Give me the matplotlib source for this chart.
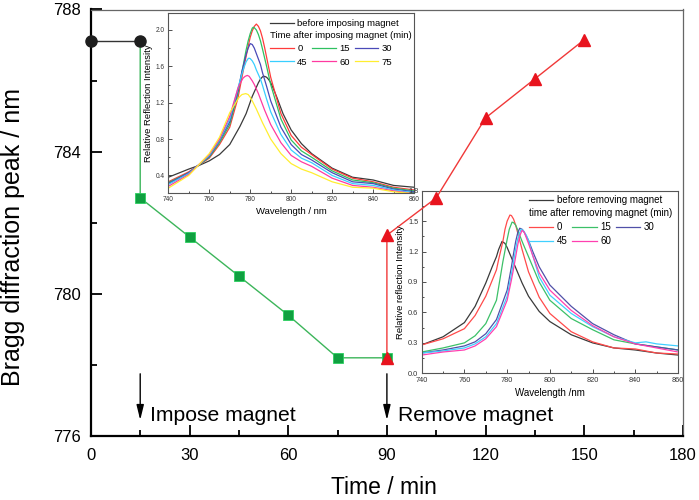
import matplotlib
matplotlib.use('Agg')
import matplotlib.pyplot as plt
from matplotlib.ticker import MultipleLocator, FormatStrFormatter

plt.rcParams['font.family'] = ['Liberation Sans', 'DejaVu Sans']

# ---------------- main chart data ----------------
t_before = [0, 15]
peak_before = [787.1, 787.1]
t_impose = [15, 15, 30, 45, 60, 75, 90]
peak_impose = [787.1, 782.7, 781.6, 780.5, 779.4, 778.2, 778.2]
t_remove = [90, 90, 105, 120, 135, 150]
peak_remove = [778.2, 781.65, 782.7, 784.95, 786.05, 787.15]
x_ticks = [0, 30, 60, 90, 120, 150, 180]
y_ticks = [776, 780, 784, 788]

# ---------------- inset 1: imposing magnet ----------------
imp_labels = ['0', '15', '30', '45', '60', '75']
imp_colors = ['#ff3b3b', '#2fc060', '#4a4ab8', '#38cfff', '#ff3aa0', '#ffee30']
imp_before_wl = [740, 750, 755, 760, 765, 770, 775, 778, 781, 784, 785, 786, 787, 788, 789, 790, 791, 793, 796, 800, 805, 810, 820, 830, 840, 850, 860]
imp_before_I = [0.38, 0.47, 0.51, 0.56, 0.63, 0.74, 0.94, 1.08, 1.27, 1.42, 1.46, 1.485, 1.49, 1.48, 1.455, 1.42, 1.37, 1.26, 1.08, 0.90, 0.75, 0.64, 0.48, 0.38, 0.35, 0.29, 0.27]
imp_wl = [
    [740, 750, 760, 765, 770, 774, 777, 779, 780, 781, 782, 783, 784, 785, 786, 787, 788, 790, 795, 800, 805, 810, 820, 830, 840, 850, 860],
    [740, 750, 760, 765, 770, 774, 777, 778, 779, 780, 781, 781.5, 782, 783, 784, 785, 786, 788, 790, 795, 800, 805, 810, 820, 830, 840, 850, 860],
    [740, 750, 760, 765, 770, 774, 776, 777, 778, 779, 780, 781, 782, 783, 785, 786, 788, 790, 795, 800, 805, 810, 820, 830, 840, 850, 860],
    [740, 750, 760, 765, 770, 774, 776, 777, 778, 779, 779.4, 780, 781, 782, 783, 785, 786, 788, 790, 795, 800, 805, 810, 820, 830, 840, 850, 860],
    [740, 750, 760, 765, 770, 774, 775, 776.5, 777.5, 778.6, 779.5, 781, 782, 784, 787, 790, 795, 800, 805, 810, 820, 830, 840, 850, 860],
    [740, 750, 760, 765, 770, 774, 775, 776, 777.8, 779, 780, 781, 783, 786, 790, 795, 800, 805, 810, 820, 830, 840, 850, 860],
]
imp_I = [
    [0.33, 0.44, 0.59, 0.74, 0.93, 1.25, 1.60, 1.82, 1.92, 1.99, 2.04, 2.065, 2.04, 1.99, 1.91, 1.81, 1.70, 1.48, 1.08, 0.84, 0.71, 0.63, 0.47, 0.37, 0.33, 0.27, 0.24],
    [0.32, 0.43, 0.60, 0.76, 0.96, 1.30, 1.66, 1.78, 1.88, 1.96, 2.02, 2.03, 2.025, 2.00, 1.95, 1.88, 1.79, 1.60, 1.40, 1.02, 0.79, 0.67, 0.60, 0.45, 0.35, 0.32, 0.26, 0.23],
    [0.31, 0.43, 0.61, 0.78, 0.99, 1.33, 1.55, 1.64, 1.73, 1.80, 1.85, 1.84, 1.80, 1.74, 1.62, 1.53, 1.38, 1.22, 0.93, 0.74, 0.63, 0.57, 0.43, 0.33, 0.31, 0.25, 0.22],
    [0.30, 0.42, 0.62, 0.79, 1.02, 1.36, 1.52, 1.59, 1.65, 1.685, 1.69, 1.685, 1.66, 1.62, 1.56, 1.46, 1.39, 1.24, 1.10, 0.85, 0.68, 0.59, 0.54, 0.40, 0.31, 0.29, 0.24, 0.21],
    [0.28, 0.41, 0.63, 0.80, 1.05, 1.36, 1.41, 1.47, 1.49, 1.50, 1.49, 1.44, 1.40, 1.30, 1.12, 0.96, 0.76, 0.62, 0.55, 0.50, 0.37, 0.29, 0.27, 0.23, 0.20],
    [0.26, 0.40, 0.64, 0.82, 1.09, 1.24, 1.27, 1.29, 1.30, 1.29, 1.26, 1.22, 1.13, 0.98, 0.80, 0.64, 0.53, 0.47, 0.43, 0.33, 0.27, 0.26, 0.22, 0.20],
]

# ---------------- inset 2: removing magnet ----------------
rem_labels = ['0', '15', '30', '45', '60']
rem_colors = ['#ff4a4a', '#3cc068', '#5050a8', '#40d0ff', '#ff40b0']
rem_before_wl = [740, 750, 760, 765, 770, 773, 775, 776, 777.6, 779, 780, 782, 785, 787, 790, 795, 800, 810, 820, 830, 840, 850, 860]
rem_before_I = [0.28, 0.36, 0.50, 0.66, 0.89, 1.05, 1.15, 1.22, 1.30, 1.28, 1.24, 1.14, 0.99, 0.89, 0.76, 0.61, 0.51, 0.38, 0.30, 0.25, 0.23, 0.20, 0.18]
rem_wl = [
    [740, 750, 760, 765, 770, 775, 776, 777, 778, 779, 780, 781.3, 782, 783, 784, 785, 787, 790, 795, 800, 810, 820, 830, 840, 850, 860],
    [740, 750, 760, 765, 770, 775, 778, 779, 780, 781, 782.3, 783, 784, 785, 787, 790, 795, 800, 810, 820, 830, 840, 850, 860],
    [740, 750, 760, 765, 770, 775, 780, 782, 783, 784, 785, 785.9, 787, 788, 790, 792, 795, 800, 810, 820, 830, 840, 850, 860],
    [740, 750, 760, 765, 770, 775, 780, 782, 783, 784, 785, 786.5, 787.5, 789, 790, 792, 795, 800, 810, 820, 830, 840, 845, 850, 860],
    [740, 750, 760, 765, 770, 775, 780, 782, 783, 784, 785, 786, 787, 788, 790, 792, 795, 800, 810, 820, 830, 840, 850, 860],
]
rem_I = [
    [0.28, 0.34, 0.44, 0.57, 0.76, 1.02, 1.12, 1.21, 1.30, 1.42, 1.50, 1.56, 1.555, 1.52, 1.46, 1.38, 1.22, 1.00, 0.75, 0.59, 0.41, 0.31, 0.25, 0.24, 0.20, 0.19],
    [0.21, 0.25, 0.30, 0.37, 0.49, 0.72, 1.10, 1.21, 1.32, 1.42, 1.49, 1.485, 1.46, 1.41, 1.30, 1.15, 0.90, 0.72, 0.54, 0.43, 0.33, 0.29, 0.26, 0.23],
    [0.20, 0.23, 0.27, 0.31, 0.39, 0.53, 0.82, 1.05, 1.18, 1.30, 1.39, 1.43, 1.42, 1.39, 1.31, 1.20, 1.05, 0.87, 0.66, 0.49, 0.38, 0.29, 0.26, 0.23],
    [0.20, 0.22, 0.25, 0.29, 0.36, 0.49, 0.76, 0.98, 1.10, 1.23, 1.33, 1.42, 1.41, 1.36, 1.31, 1.16, 0.95, 0.77, 0.59, 0.46, 0.36, 0.30, 0.31, 0.29, 0.27],
    [0.18, 0.21, 0.23, 0.27, 0.34, 0.46, 0.72, 0.92, 1.03, 1.15, 1.27, 1.36, 1.41, 1.39, 1.28, 1.16, 0.99, 0.82, 0.62, 0.47, 0.36, 0.29, 0.25, 0.21],
]

fig = plt.figure(figsize=(6.99, 5.00), dpi=100)
fig.patch.set_facecolor('white')

# main axes
ax = fig.add_axes([0.130, 0.128, 0.847, 0.853])
ax.set_zorder(3)
ax.patch.set_visible(False)
ax.set_xlim(0, 180)
ax.set_ylim(776, 788)
ax.set_xticks(x_ticks)
ax.set_yticks(y_ticks)
ax.xaxis.set_minor_locator(MultipleLocator(15))
ax.yaxis.set_minor_locator(MultipleLocator(2))
ax.tick_params(which='both', direction='in', labelsize=12, width=1.3)
ax.tick_params(which='major', length=8)
ax.tick_params(which='minor', length=4.5)
ax.tick_params(axis='x', pad=9)
ax.tick_params(axis='y', pad=7)
for s in ['left', 'bottom']:
    ax.spines[s].set_linewidth(1.6)
    ax.spines[s].set_color('black')
for s in ['top', 'right']:
    ax.spines[s].set_linewidth(0.9)
    ax.spines[s].set_color('#666666')

ax.plot(t_impose, peak_impose, color='#3cb55a', lw=1.0, marker='s', markersize=7.5,
        markerfacecolor='#10a040', markeredgecolor='#2bd060', markeredgewidth=0.6,
        markevery=list(range(1, len(t_impose))), zorder=3, clip_on=False)
ax.plot(t_remove, peak_remove, color='#f03838', lw=1.0, marker='^', markersize=9,
        markerfacecolor='#e8141e', markeredgecolor='#e8141e', zorder=4, clip_on=False)
ax.plot(t_before, peak_before, color='#333333', lw=1.0, marker='o', markersize=8,
        markerfacecolor='#1e1e1e', markeredgecolor='#1e1e1e', zorder=5, clip_on=False)

arrow_kw = dict(arrowstyle='-|>,head_length=0.9,head_width=0.22', color='black', lw=1.0,
                shrinkA=0, shrinkB=0)
ax.annotate('', xy=(15, 776.45), xytext=(15, 777.75), arrowprops=arrow_kw)
ax.annotate('', xy=(90, 776.45), xytext=(90, 777.75), arrowprops=arrow_kw)
ax.text(17.9, 776.42, 'Impose magnet', fontsize=15.2, va='baseline', ha='left')
ax.text(93.3, 776.42, 'Remove magnet', fontsize=15.2, va='baseline', ha='left')

fig.text(0.0186, 0.526, 'Bragg diffraction peak / nm', rotation=90, fontsize=18,
         ha='center', va='center')
fig.text(0.549, 0.026, 'Time / min', fontsize=16.5, ha='center', va='center')


def style_inset(a, ylo, yhi, ymaj, ymin, lab):
    a.set_xlim(740, 860)
    a.set_ylim(ylo, yhi)
    a.xaxis.set_major_locator(MultipleLocator(20))
    a.xaxis.set_minor_locator(MultipleLocator(10))
    a.yaxis.set_major_locator(MultipleLocator(ymaj))
    a.yaxis.set_minor_locator(MultipleLocator(ymin))
    a.yaxis.set_major_formatter(FormatStrFormatter('%.1f'))
    a.tick_params(which='both', direction='in', labelsize=lab, pad=2.5, width=0.6,
                  colors='#333333')
    a.tick_params(which='major', length=3)
    a.tick_params(which='minor', length=1.6)
    for s in a.spines.values():
        s.set_linewidth(0.8)
        s.set_color('#555555')


leg_kw = dict(loc='upper left', frameon=False, handlelength=2.5, handletextpad=0.35,
              borderpad=0, borderaxespad=0)

# inset 1
a1 = fig.add_axes([0.2408, 0.6146, 0.3515, 0.360])
a1.set_zorder(1)
style_inset(a1, 0.21, 2.19, 0.4, 0.2, 4.7)
bl1, = a1.plot(imp_before_wl, imp_before_I, color='#3a3a3a', lw=0.9)
h1 = []
for wl, I, c in zip(imp_wl, imp_I, imp_colors):
    ln, = a1.plot(wl, I, color=c, lw=0.9)
    h1.append(ln)
a1.set_xlabel('Wavelength / nm', fontsize=6.8, labelpad=3)
a1.set_ylabel('Relative Reflection Intensity', fontsize=6.8, labelpad=2)
legA = a1.legend([bl1], ['before imposing magnet'], bbox_to_anchor=(0.415, 0.966),
                 fontsize=6.8, **leg_kw)
a1.add_artist(legA)
order = [0, 3, 1, 4, 2, 5]
a1.legend([h1[i] for i in order], [imp_labels[i] for i in order], ncol=3,
          title='Time after imposing magnet (min)', title_fontsize=6.8, alignment='left',
          bbox_to_anchor=(0.415, 0.897), fontsize=6.8, columnspacing=0.5,
          labelspacing=0.45, **leg_kw)

# inset 2
a2 = fig.add_axes([0.6033, 0.2534, 0.3667, 0.3652])
a2.set_zorder(2)
style_inset(a2, 0.0, 1.8, 0.3, 0.15, 5.3)
bl2, = a2.plot(rem_before_wl, rem_before_I, color='#3a3a3a', lw=0.9)
h2 = []
for wl, I, c in zip(rem_wl, rem_I, rem_colors):
    ln, = a2.plot(wl, I, color=c, lw=0.9)
    h2.append(ln)
a2.set_xlabel('Wavelength /nm', fontsize=7, labelpad=3)
a2.set_ylabel('Relative reflection Intensity', fontsize=6.8, labelpad=2)
legC = a2.legend([bl2], ['before removing magnet'], bbox_to_anchor=(0.419, 0.975),
                 fontsize=7, **leg_kw)
a2.add_artist(legC)
order2 = [0, 3, 1, 4, 2]
a2.legend([h2[i] for i in order2], [rem_labels[i] for i in order2], ncol=3,
          title='time after removing magnet (min)', title_fontsize=7, alignment='left',
          bbox_to_anchor=(0.419, 0.903), fontsize=7, columnspacing=0.5,
          labelspacing=0.4, **leg_kw)

fig.savefig('out.png', dpi=100)
